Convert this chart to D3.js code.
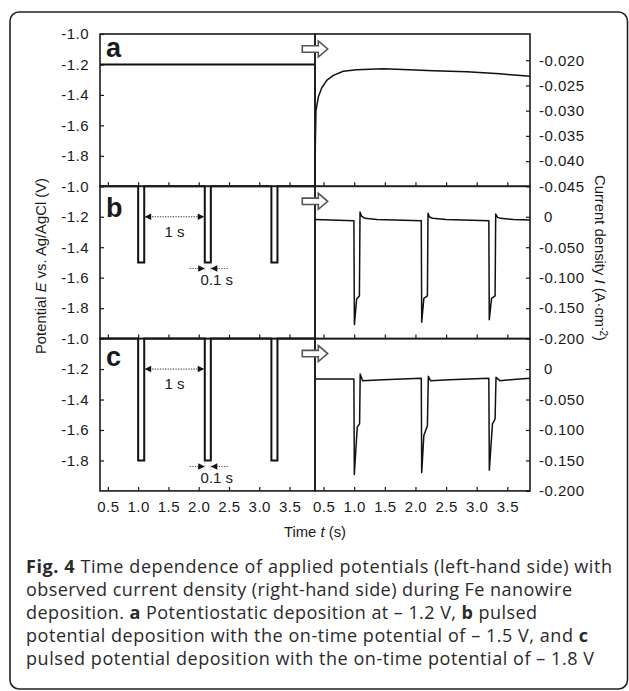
<!DOCTYPE html>
<html>
<head>
<meta charset="utf-8">
<title>Fig. 4</title>
<script src="https://cdn.jsdelivr.net/npm/d3@7"></script>
<style>
  body { margin: 0; background: #fff; }
  svg text { font-family: "Liberation Sans", Arial, sans-serif; fill: #1a1a1a; }
  .caption text { font-family: "Open Sans", sans-serif; font-size: 18px; fill: #2a2a2a; }
</style>
</head>
<body>
<svg id="chart" width="629" height="691"></svg>
<script>
// ---- values ----
var timeTicks = [0.5, 1.0, 1.5, 2.0, 2.5, 3.0, 3.5];
var potentialTicks = [-1.0, -1.2, -1.4, -1.6, -1.8];
var currentTicksA = [-0.020, -0.025, -0.030, -0.035, -0.040, -0.045];
var currentTicksBC = [0, -0.050, -0.100, -0.150, -0.200];

// applied potential (left half)
var potTimeA = [0.37, 3.92];
var potA = [-1.2, -1.2];
var potTimePulsed = [0.37, 1.0, 1.0, 1.1, 1.1, 2.1, 2.1, 2.2, 2.2, 3.2, 3.2, 3.3, 3.3, 3.92];
var potB = [-1.0, -1.0, -1.5, -1.5, -1.0, -1.0, -1.5, -1.5, -1.0, -1.0, -1.5, -1.5, -1.0, -1.0];
var potC = [-1.0, -1.0, -1.8, -1.8, -1.0, -1.0, -1.8, -1.8, -1.0, -1.0, -1.8, -1.8, -1.0, -1.0];

// observed current density (right half)
var curTimeA = [0.36, 0.366, 0.376, 0.414, 0.469, 0.551, 0.659, 0.822, 1.04, 1.475, 1.9, 2.29, 2.84, 3.38, 3.87];
var curA = [-0.045, -0.036, -0.030, -0.0273, -0.0255, -0.024, -0.023, -0.0222, -0.0219, -0.0217, -0.0219, -0.0221, -0.0223, -0.0227, -0.0232];

var curTimeB = [0.36, 0.995, 1.003, 1.04, 1.085, 1.095, 1.12, 1.175, 1.37, 2.095,
                2.102, 2.137, 2.195, 2.205, 2.23, 2.28, 2.5, 3.198,
                3.205, 3.242, 3.30, 3.31, 3.34, 3.39, 3.6, 3.87];
var curB = [-0.0045, -0.0066, -0.177, -0.135, -0.130, 0.008, 0.001, -0.0026, -0.0043, -0.0066,
            -0.173, -0.134, -0.130, 0.0056, -0.0005, -0.0025, -0.0043, -0.0066,
            -0.169, -0.134, -0.130, 0.0045, -0.001, -0.0026, -0.0045, -0.0054];

var curTimeC = [0.36, 0.995, 1.002, 1.05, 1.088, 1.098, 1.137, 1.47, 2.095,
                2.102, 2.137, 2.195, 2.21, 2.246, 2.55, 3.198,
                3.206, 3.257, 3.30, 3.315, 3.377, 3.6, 3.87];
var curC = [-0.0163, -0.0163, -0.173, -0.095, -0.090, -0.0082, -0.019, -0.0175, -0.0152,
            -0.170, -0.109, -0.093, -0.012, -0.019, -0.0175, -0.0152,
            -0.166, -0.090, -0.082, -0.0136, -0.019, -0.017, -0.0152];

var panelLetters = ['a', 'b', 'c'];
var pulseLevels = [null, -1.5, -1.8];

// ---- layout ----
var svg = d3.select('#chart');
var plotTop = 34, panelH = 152.3;
var xL = d3.scaleLinear().domain([0.37, 3.92]).range([100, 315]);
var xR = d3.scaleLinear().domain([0.36, 3.87]).range([315, 530]);
var ink = '#1a1a1a';

// rounded frame around figure + caption
svg.append('rect')
   .attr('x', 10).attr('y', 12).attr('width', 617.5).attr('height', 677)
   .attr('rx', 9)
   .attr('fill', 'none').attr('stroke', '#222').attr('stroke-width', 1.6);

var panels = [
  { letter: 0, letterDy: 23, potT: potTimeA, potV: potA, curT: curTimeA, curV: curA,
    curDomain: [-0.045, -0.0148], curTicks: currentTicksA },
  { letter: 1, letterDy: 30.5, potT: potTimePulsed, potV: potB, curT: curTimeB, curV: curB,
    curDomain: [-0.2, 0.05], curTicks: currentTicksBC },
  { letter: 2, letterDy: 27.5, potT: potTimePulsed, potV: potC, curT: curTimeC, curV: curC,
    curDomain: [-0.2, 0.05], curTicks: currentTicksBC }
];

function styleAxis(g) {
  g.select('.domain').remove();
  g.attr('font-size', 15).attr('font-family', '"Liberation Sans", Arial, sans-serif');
  g.selectAll('.tick text').attr('letter-spacing', 0.5);
  g.selectAll('.tick line').attr('stroke', ink).attr('stroke-width', 1.2);
}

function arrowHead(g, x, y, dir) {
  // small filled triangle, tip at (x, y), dir = +1 points right, -1 points left
  g.append('path')
   .attr('d', 'M' + x + ',' + y + 'L' + (x - dir * 6.5) + ',' + (y - 3.3) + 'L' + (x - dir * 6.5) + ',' + (y + 3.3) + 'Z')
   .attr('fill', '#111');
}

panels.forEach(function(p, i) {
  var top = plotTop + i * panelH, bottom = top + panelH;
  var yL = d3.scaleLinear().domain([-2.0, -1.0]).range([bottom, top]);
  var yR = d3.scaleLinear().domain(p.curDomain).range([bottom, top]);

  // x ticks (inward) at the bottom of every panel, labels on the last only
  var last = i === panels.length - 1;
  [xL, xR].forEach(function(x) {
    var gx = svg.append('g')
      .attr('transform', 'translate(0,' + bottom + ')')
      .call(d3.axisBottom(x).tickValues(timeTicks).tickSizeInner(-4).tickSizeOuter(0)
              .tickPadding(10).tickFormat(function(d) { return last ? d.toFixed(1) : ''; }));
    styleAxis(gx);
  });

  // left potential axis
  var gl = svg.append('g')
    .attr('transform', 'translate(' + xL.range()[0] + ',0)')
    .call(d3.axisLeft(yL).tickValues(potentialTicks).tickSizeInner(-4).tickSizeOuter(0)
            .tickPadding(11).tickFormat(function(d) { return d.toFixed(1); }));
  styleAxis(gl);

  // right current axis
  var gr = svg.append('g')
    .attr('transform', 'translate(' + xR.range()[1] + ',0)')
    .call(d3.axisRight(yR).tickValues(p.curTicks).tickSizeInner(-4).tickSizeOuter(0)
            .tickPadding(9).tickFormat(function(d) { return d === 0 ? '0' : d.toFixed(3); }));
  styleAxis(gr);
  gr.selectAll('.tick text').filter(function(d) { return d === 0; }).attr('dx', 5);

  // potential trace
  var potLine = d3.line().x(function(d) { return xL(d[0]); }).y(function(d) { return yL(d[1]); });
  svg.append('path')
     .datum(d3.zip(p.potT, p.potV))
     .attr('d', potLine)
     .attr('fill', 'none').attr('stroke', '#111').attr('stroke-width', 2);

  // current trace
  var curLine = d3.line().x(function(d) { return xR(d[0]); }).y(function(d) { return yR(d[1]); });
  svg.append('path')
     .datum(d3.zip(p.curT, p.curV))
     .attr('d', curLine)
     .attr('fill', 'none').attr('stroke', '#111').attr('stroke-width', 1.5)
     .attr('stroke-linejoin', 'round');

  // panel frames
  [xL, xR].forEach(function(x) {
    svg.append('rect')
       .attr('x', x.range()[0]).attr('y', top)
       .attr('width', x.range()[1] - x.range()[0]).attr('height', panelH)
       .attr('fill', 'none').attr('stroke', ink).attr('stroke-width', 1.6);
  });

  // panel letter
  svg.append('text')
     .attr('x', 106).attr('y', top + p.letterDy)
     .attr('font-size', 27).attr('font-weight', 'bold')
     .text(panelLetters[p.letter]);

  // hollow arrow from left half to right half
  var ax = xL.range()[1], ay = top + 15;
  svg.append('path')
     .attr('transform', 'translate(' + ax + ',' + ay + ')')
     .attr('d', 'M-12.7,-3.2L3.3,-3.2L3.3,-8L12.7,0L3.3,8L3.3,3.2L-12.7,3.2Z')
     .attr('fill', '#fff').attr('stroke', '#555').attr('stroke-width', 1.6);

  // dimension marks for pulsed panels
  var lvl = pulseLevels[i];
  if (lvl !== null) {
    var g = svg.append('g');
    var offEnd = potTimePulsed[3], nextOn = potTimePulsed[5], nextOff = potTimePulsed[7];
    var y1 = yL(-1.2);
    g.append('line')
     .attr('x1', xL(offEnd)).attr('x2', xL(nextOn)).attr('y1', y1).attr('y2', y1)
     .attr('stroke', '#333').attr('stroke-width', 1).attr('stroke-dasharray', '1.3,1.3');
    arrowHead(g, xL(offEnd) + 0.5, y1, -1);
    arrowHead(g, xL(nextOn) - 0.5, y1, 1);
    g.append('text')
     .attr('x', xL((offEnd + nextOn) / 2)).attr('y', y1 + 20)
     .attr('text-anchor', 'middle').attr('font-size', 15).text('1 s');

    var y2 = yL(lvl - 0.04);
    g.append('line')
     .attr('x1', xL(nextOn) - 15).attr('x2', xL(nextOn)).attr('y1', y2).attr('y2', y2)
     .attr('stroke', '#555').attr('stroke-width', 1).attr('stroke-dasharray', '1.3,1.3');
    g.append('line')
     .attr('x1', xL(nextOff)).attr('x2', xL(nextOff) + 17).attr('y1', y2).attr('y2', y2)
     .attr('stroke', '#555').attr('stroke-width', 1).attr('stroke-dasharray', '1.3,1.3');
    [xL(nextOn), xL(nextOff)].forEach(function(x) {
      g.append('line')
       .attr('x1', x).attr('x2', x).attr('y1', y2 - 6).attr('y2', y2 + 4)
       .attr('stroke', '#999').attr('stroke-width', 0.8).attr('stroke-dasharray', '1,1.2');
    });
    arrowHead(g, xL(nextOn), y2, 1);
    arrowHead(g, xL(nextOff), y2, -1);
    g.append('text')
     .attr('x', xL(nextOff) + 6).attr('y', y2 + 16)
     .attr('text-anchor', 'middle').attr('font-size', 15).text('0.1 s');
  }
});

// axis titles
var yTitle = svg.append('text')
  .attr('transform', 'translate(41,266) rotate(-90)')
  .attr('text-anchor', 'middle').attr('dy', '0.35em').attr('font-size', 14.8);
yTitle.append('tspan').text('Potential ');
yTitle.append('tspan').attr('font-style', 'italic').text('E');
yTitle.append('tspan').text(' vs. Ag/AgCl (V)');

var y2Title = svg.append('text')
  .attr('transform', 'translate(600,258) rotate(90)')
  .attr('text-anchor', 'middle').attr('dy', '0.35em').attr('font-size', 14.8);
y2Title.append('tspan').text('Current density ');
y2Title.append('tspan').attr('font-style', 'italic').text('I');
y2Title.append('tspan').text(' (A\u00b7cm');
y2Title.append('tspan').attr('font-size', 10).attr('dy', -5).text('-2');
y2Title.append('tspan').attr('dy', 5).text(')');

var xTitle = svg.append('text')
  .attr('x', 315).attr('y', 536.5)
  .attr('text-anchor', 'middle').attr('font-size', 14.8);
xTitle.append('tspan').text('Time ');
xTitle.append('tspan').attr('font-style', 'italic').text('t');
xTitle.append('tspan').text(' (s)');

// caption, each line stretched to the width it has in the source
var captionLines = [
  [['Fig. 4', true], [' Time dependence of applied potentials (left-hand side) with', false]],
  [['observed current density (right-hand side) during Fe nanowire', false]],
  [['deposition. ', false], ['a', true], [' Potentiostatic deposition at \u2013 1.2 V, ', false], ['b', true], [' pulsed', false]],
  [['potential deposition with the on-time potential of \u2013 1.5 V, and ', false], ['c', true]],
  [['pulsed potential deposition with the on-time potential of \u2013 1.8 V', false]]
];
var captionWidths = [586, 546, 511, 562, 568];
var cap = svg.append('g').attr('class', 'caption');
captionLines.forEach(function(line, i) {
  var t = cap.append('text').attr('x', 26).attr('y', 573 + i * 23)
    .attr('textLength', captionWidths[i]).attr('lengthAdjust', 'spacing');
  line.forEach(function(part) {
    t.append('tspan').attr('font-weight', part[1] ? 700 : 400).text(part[0]);
  });
});
</script>
</body>
</html>
